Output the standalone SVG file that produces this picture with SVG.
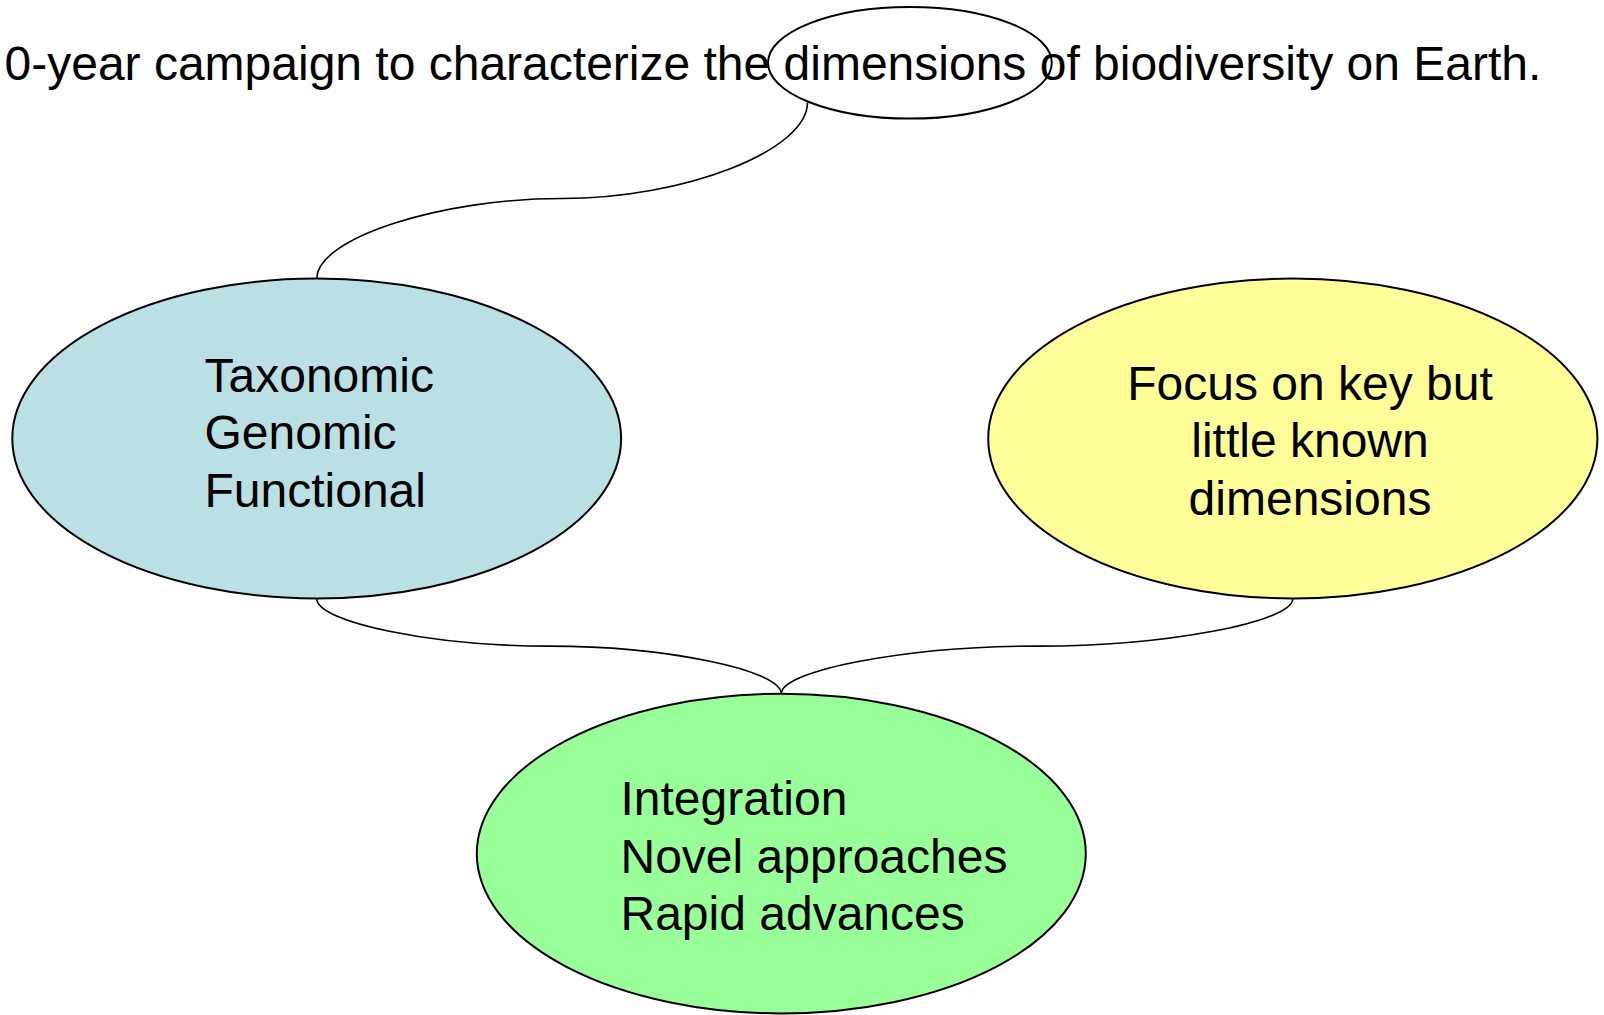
<svg xmlns="http://www.w3.org/2000/svg" width="1604" height="1015" viewBox="0 0 1604 1015">
  <style>
    .node { stroke: #000000; stroke-width: 2; }
    .conn { fill: none; stroke: #000000; stroke-width: 1.6; }
    .t { font-family: "Liberation Sans", Arial, sans-serif; font-size: 48px; fill: #000000; }
  </style>
  <rect x="0" y="0" width="1604" height="1015" fill="#ffffff"/>
  <g id="connectors">
    <path class="conn" d="M807.5,102.5 C807.5,150.5 684.8,198.5 562.1,198.5 C439.4,198.5 316.7,238.5 316.7,278.6"/>
    <path class="conn" d="M316.7,598.4 C316.7,622.3 432.9,646.1 549,646.1 C665.2,646.1 781.3,670 781.3,693.8"/>
    <path class="conn" d="M1292.8,598.4 C1292.8,622.3 1164.9,646.1 1037,646.1 C909.2,646.1 781.3,670 781.3,693.8"/>
  </g>
  <g id="title">
    <ellipse class="node" cx="909.9" cy="62.8" rx="141.9" ry="55.8" fill="none"/>
    <text class="t" x="4.5" y="80">0-year campaign to characterize the dimensions of biodiversity on Earth.</text>
  </g>
  <g id="node-dimensions">
    <ellipse class="node" cx="316.7" cy="438.5" rx="304.4" ry="159.9" fill="#BBE0E3"/>
    <text class="t" x="204.5" y="391.8">Taxonomic</text>
    <text class="t" x="204.5" y="449.2">Genomic</text>
    <text class="t" x="204.5" y="506.6">Functional</text>
  </g>
  <g id="node-focus">
    <ellipse class="node" cx="1292.8" cy="438.5" rx="304.6" ry="159.9" fill="#FFFF99"/>
    <text class="t" x="1310" y="400" text-anchor="middle">Focus on key but</text>
    <text class="t" x="1310" y="457.4" text-anchor="middle">little known</text>
    <text class="t" x="1310" y="514.8" text-anchor="middle">dimensions</text>
  </g>
  <g id="node-integration">
    <ellipse class="node" cx="781.3" cy="853.6" rx="304.5" ry="159.8" fill="#99FF99"/>
    <text class="t" x="620.5" y="815.3">Integration</text>
    <text class="t" x="620.5" y="872.7">Novel approaches</text>
    <text class="t" x="620.5" y="930.1">Rapid advances</text>
  </g>
</svg>
